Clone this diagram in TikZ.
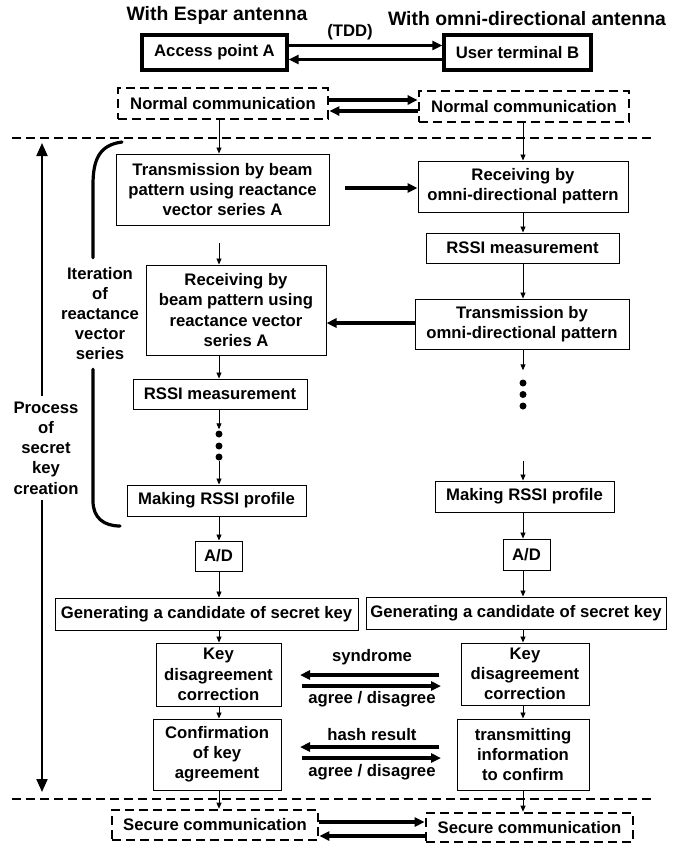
\documentclass[tikz,border=0pt]{standalone}
\usepackage{fontspec}
\setmainfont{Liberation Sans}
\usetikzlibrary{arrows.meta}

\begin{document}
\begin{tikzpicture}[x=1pt,y=-1pt,
  every node/.style={font=\fontsize{16.7}{20.2}\selectfont\bfseries, inner sep=0pt, align=center},
  sz/.style 2 args={minimum width=#1pt, minimum height=#2pt},
  box/.style={draw=black, line width=1pt},
  mainbox/.style={draw=black, line width=3.2pt},
  dbox/.style={draw=black, line width=2.6pt, dash pattern=on 9pt off 5pt},
  flow/.style={line width=0.9pt, -{Triangle[length=6pt,width=5pt]}},
  fat/.style={line width=3.3pt, -{Triangle[length=10pt,width=9pt]}},
  span/.style={line width=2pt, -{Triangle[length=13pt,width=11pt]}},
  sep/.style={line width=1.4pt, dash pattern=on 9pt off 5pt},
  dot/.style={circle, fill=black, inner sep=0pt, minimum size=7pt},
  title/.style={font=\fontsize{19.4}{23}\selectfont\bfseries},
  bracket/.style={line width=3.2pt, line cap=round}]

\useasboundingbox (0,0) rectangle (683,844);

% column axes
\coordinate (cL) at (219,0);
\coordinate (cR) at (523,0);

% headings
\node[title] (hA) at (217,15) {With Espar antenna};
\node[title] (hB) at (527,19) {With omni-directional antenna};
\node (tdd) at (350,32) {(TDD)};

% stations
\node[mainbox, sz={145}{35}] (apA) at (214.5,52.5) {Access point A};
\node[mainbox, sz={147}{35}] (utB) at (517.5,52.5) {User terminal B};
\draw[fat] ([yshift=7pt]apA.east) -- ([yshift=7pt]utB.west);
\draw[fat] ([yshift=-7pt]utB.west) -- ([yshift=-7pt]apA.east);

% normal communication
\node[dbox, sz={210}{31}] (nL) at (223,103.5) {Normal communication};
\node[dbox, sz={210}{31}] (nR) at (524,106.5) {Normal communication};
\draw[fat] (nL.east |- 0,100) -- (nR.west |- 0,100);
\draw[fat] (nR.west |- 0,111) -- (nL.east |- 0,111);

% phase separators
\draw[sep] (12,138) -- (652,138);
\draw[sep] (12,799) -- (652,799);

% key creation, access point side
\node[box, sz={213}{71}] (t1) at (222.5,189.5) {Transmission by beam\\pattern using reactance\\vector series A};
\node[box, sz={180}{90}] (r2) at (236,310) {Receiving by\\beam pattern using\\reactance vector\\series A};
\node[box, sz={174}{30}] (rssiL) at (220,394) {RSSI measurement};
\node[dot] (dL1) at (219,434) {};
\node[dot] (dL2) at (219,446) {};
\node[dot] (dL3) at (219,457) {};
\node[box, sz={179}{31}] (mkL) at (216.5,500.5) {Making RSSI profile};
\node[box, sz={47}{30}] (adL) at (218.5,556) {A/D};
\node[box, sz={303}{32}] (genL) at (206.5,614) {Generating a candidate of secret key};
\node[box, sz={125}{63}] (keyL) at (218.5,674.5) {Key\\disagreement\\correction};
\node[box, sz={128}{71}] (cfL) at (217,754.5) {Confirmation\\of key\\agreement};
\node[dbox, sz={206}{30}] (secL) at (215,825) {Secure communication};

% key creation, user terminal side
\node[box, sz={210}{51}] (r1) at (523,186.5) {Receiving by\\omni-directional pattern};
\node[box, sz={193}{30}] (rssiR) at (522.5,248) {RSSI measurement};
\node[box, sz={214}{50}] (t2) at (522,324) {Transmission by\\omni-directional pattern};
\node[dot] (dR1) at (523,383) {};
\node[dot] (dR2) at (523,394.5) {};
\node[dot] (dR3) at (523,406) {};
\node[box, sz={179}{31}] (mkR) at (524.5,496.5) {Making RSSI profile};
\node[box, sz={47}{31}] (adR) at (526.5,554.5) {A/D};
\node[box, sz={300}{32}] (genR) at (516,613) {Generating a candidate of secret key};
\node[box, sz={128}{62}] (keyR) at (525,674) {Key\\disagreement\\correction};
\node[box, sz={132}{71}] (cfR) at (523,754.5) {transmitting\\information\\to confirm};
\node[dbox, sz={207}{29}] (secR) at (529.5,827.5) {Secure communication};

% side annotations
\node[inner ysep=9pt] (iter) at (100,313.6) {Iteration\\of\\reactance\\vector\\series};
\node[inner ysep=6pt] (proc) at (46,448) {Process\\of\\secret\\key\\creation};

\coordinate (brTop) at (122,142);
\coordinate (brBot) at (120,526);
\draw[bracket] (brTop) .. controls (99,145) and (93,160) .. (93,185) -- (iter.north -| 93,0);
\draw[bracket] (iter.south -| 93,0) -- (93,501) .. controls (93,518) and (104,526) .. (brBot);

\coordinate (spanTop) at (42,143);
\coordinate (spanBot) at (42,792);
\draw[span] (proc.north -| spanTop) -- (spanTop);
\draw[span] (proc.south -| spanBot) -- (spanBot);

% vertical flow, access point side
\coordinate (t1gap) at (219,243);
\draw[flow] (nL.south -| cL) -- (t1.north -| cL);
\draw[flow] (t1gap) -- (r2.north -| cL);
\draw[flow] (r2.south -| cL) -- (rssiL.north -| cL);
\draw[flow, shorten >=1pt] (rssiL.south -| cL) -- (dL1.north);
\draw[flow] (dL3.south) -- (mkL.north -| cL);
\draw[flow] (mkL.south -| cL) -- (adL.north -| cL);
\draw[flow] (adL.south -| cL) -- (genL.north -| cL);
\draw[flow] (genL.south -| cL) -- (keyL.north -| cL);
\draw[flow] (keyL.south -| cL) -- (cfL.north -| cL);
\draw[flow] (cfL.south -| cL) -- (secL.north -| cL);

% vertical flow, user terminal side
\coordinate (mkRgap) at (523,461);
\draw[flow] (nR.south -| cR) -- (r1.north -| cR);
\draw[flow] (r1.south -| cR) -- (rssiR.north -| cR);
\draw[flow] (rssiR.south -| cR) -- (t2.north -| cR);
\draw[flow, shorten >=9pt] (t2.south -| cR) -- (dR1.north);
\draw[flow] (mkRgap) -- (mkR.north -| cR);
\draw[flow] (mkR.south -| cR) -- (adR.north -| cR);
\draw[flow] (adR.south -| cR) -- (genR.north -| cR);
\draw[flow] (genR.south -| cR) -- (keyR.north -| cR);
\draw[flow] (keyR.south -| cR) -- (cfR.north -| cR);
\draw[flow] (cfR.south -| cR) -- (secR.north -| cR);

% radio exchanges
\coordinate (t1out) at (345,188);
\draw[fat] (t1out) -- (t1out -| r1.west);
\draw[fat] (t2.west |- 0,323) -- (r2.east |- 0,323);

\node (syn) at (372,657) {syndrome};
\node (ag1) at (372,699) {agree / disagree};
\node (hash) at (372,735) {hash result};
\node (ag2) at (372,772) {agree / disagree};
\coordinate (synR) at (439,675);
\coordinate (synL) at (300,675);
\coordinate (ag1L) at (302,686);
\coordinate (ag1R) at (441,686);
\coordinate (hashR) at (439,747);
\coordinate (hashL) at (300,747);
\coordinate (ag2L) at (302,758);
\coordinate (ag2R) at (441,758);
\draw[fat] (synR) -- (synL);
\draw[fat] (ag1L) -- (ag1R);
\draw[fat] (hashR) -- (hashL);
\draw[fat] (ag2L) -- (ag2R);

% secure communication
\draw[fat] (secL.east |- 0,822) -- (secR.west |- 0,822);
\draw[fat] (secR.west |- 0,836) -- (secL.east |- 0,836);

\end{tikzpicture}
\end{document}
